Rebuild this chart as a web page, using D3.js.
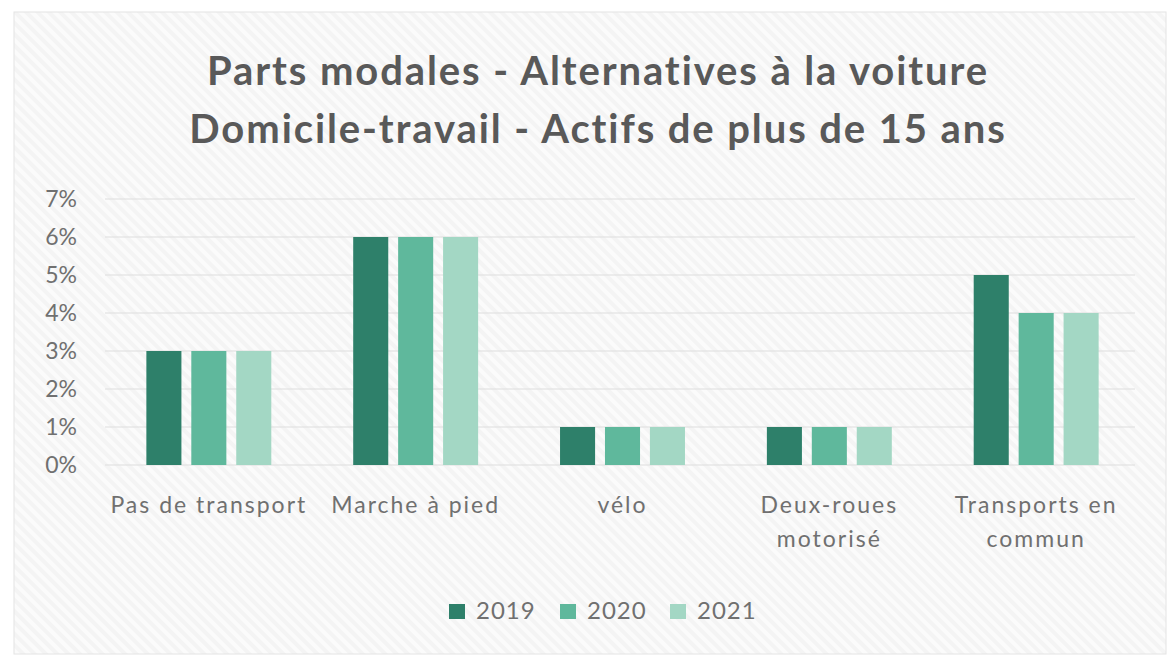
<!DOCTYPE html>
<html>
<head>
<meta charset="utf-8">
<script src="https://cdn.jsdelivr.net/npm/d3@7"></script>
<style>
  body { margin: 0; background: #ffffff; }
  text { font-family: Lato, "Open Sans", sans-serif; }
</style>
</head>
<body>
<div id="chart"></div>
<script>
// Chart data
const categories = ["Pas de transport", "Marche à pied", "vélo", "Deux-roues motorisé", "Transports en commun"];
const categoryLines = [["Pas de transport"], ["Marche à pied"], ["vélo"], ["Deux-roues", "motorisé"], ["Transports en", "commun"]];
const years = ["2019", "2020", "2021"];
const values2019 = [0.03, 0.06, 0.01, 0.01, 0.05];
const values2020 = [0.03, 0.06, 0.01, 0.01, 0.04];
const values2021 = [0.03, 0.06, 0.01, 0.01, 0.04];
const yTicks = [0, 0.01, 0.02, 0.03, 0.04, 0.05, 0.06, 0.07];
const titleLines = ["Parts modales - Alternatives à la voiture", "Domicile-travail - Actifs de plus de 15 ans"];

const series = [values2019, values2020, values2021];
const colors = ["#2e806a", "#5fb89c", "#a3d7c4"];

const width = 1170, height = 657;
const svg = d3.select("#chart").append("svg")
    .attr("width", width)
    .attr("height", height);

// pattern for the faint hatched background
const defs = svg.append("defs");
const pat = defs.append("pattern")
    .attr("id", "hatch")
    .attr("width", 8).attr("height", 8)
    .attr("patternUnits", "userSpaceOnUse")
    .attr("patternTransform", "rotate(-45)");
pat.append("rect").attr("width", 8).attr("height", 8).attr("fill", "#fbfbfb");
pat.append("rect").attr("width", 4).attr("height", 8).attr("fill", "#f4f4f4");

// chart area
svg.append("rect")
    .attr("x", 14).attr("y", 12)
    .attr("width", 1170 - 14 - 4).attr("height", 654 - 12)
    .attr("fill", "url(#hatch)")
    .attr("stroke", "#e4e4e4");

// title
svg.append("g").selectAll("text")
    .data(titleLines)
    .join("text")
    .attr("x", 598)
    .attr("y", (d, i) => 85 + i * 58)
    .attr("text-anchor", "middle")
    .attr("font-size", 40)
    .attr("font-weight", "bold")
    .attr("letter-spacing", 1.9)
    .attr("fill", "#595959")
    .text(d => d);

// scales
const margin = {left: 105, right: 1140, top: 199, bottom: 465};
const x0 = d3.scaleBand()
    .domain(categories)
    .range([margin.left, margin.right])
    .paddingInner(0.396)
    .paddingOuter(0.2);
const x1 = d3.scaleBand()
    .domain(years)
    .range([0, x0.bandwidth()])
    .paddingInner(0.22)
    .paddingOuter(0);
const y = d3.scaleLinear()
    .domain([0, 0.07])
    .range([margin.bottom, margin.top]);

// gridlines
svg.append("g").selectAll("line")
    .data(yTicks)
    .join("line")
    .attr("x1", margin.left)
    .attr("x2", margin.right - 5)
    .attr("y1", d => y(d))
    .attr("y2", d => y(d))
    .attr("stroke", "#dedede")
    .attr("stroke-width", 1.2);

// y axis labels
const yAxis = d3.axisLeft(y).tickValues(yTicks).tickFormat(d3.format(".0%")).tickSize(0).tickPadding(0);
const yG = svg.append("g")
    .attr("transform", "translate(77,0)")
    .call(yAxis);
yG.select(".domain").remove();
yG.selectAll("text")
    .attr("font-size", 23)
    .attr("fill", "#707070")
    .attr("font-family", "Lato, sans-serif");

// bars
const groups = svg.append("g").selectAll("g")
    .data(categories)
    .join("g")
    .attr("transform", d => `translate(${x0(d)},0)`);

groups.selectAll("rect")
    .data((d, i) => years.map((yr, j) => ({year: yr, value: series[j][i], color: colors[j]})))
    .join("rect")
    .attr("x", d => x1(d.year))
    .attr("width", x1.bandwidth())
    .attr("y", d => y(d.value))
    .attr("height", d => y(0) - y(d.value))
    .attr("fill", d => d.color);

// category labels
const catG = svg.append("g").selectAll("text")
    .data(categories)
    .join("text")
    .attr("x", d => x0(d) + x0.bandwidth() / 2)
    .attr("y", 513)
    .attr("text-anchor", "middle")
    .attr("font-size", 23)
    .attr("letter-spacing", 2)
    .attr("fill", "#707070");
catG.selectAll("tspan")
    .data((d, i) => categoryLines[i])
    .join("tspan")
    .attr("x", function() { return d3.select(this.parentNode).attr("x"); })
    .attr("dy", (d, i) => i === 0 ? 0 : 34)
    .text(d => d);

// legend
const legendX = [449, 560, 670];
const legend = svg.append("g").selectAll("g")
    .data(years)
    .join("g")
    .attr("transform", (d, i) => `translate(${legendX[i]},619)`);
legend.append("rect")
    .attr("x", 0).attr("y", -15)
    .attr("width", 16).attr("height", 15)
    .attr("fill", (d, i) => colors[i]);
legend.append("text")
    .attr("x", 27).attr("y", 0)
    .attr("font-size", 24)
    .attr("letter-spacing", 1)
    .attr("fill", "#707070")
    .text(d => d);
</script>
</body>
</html>
